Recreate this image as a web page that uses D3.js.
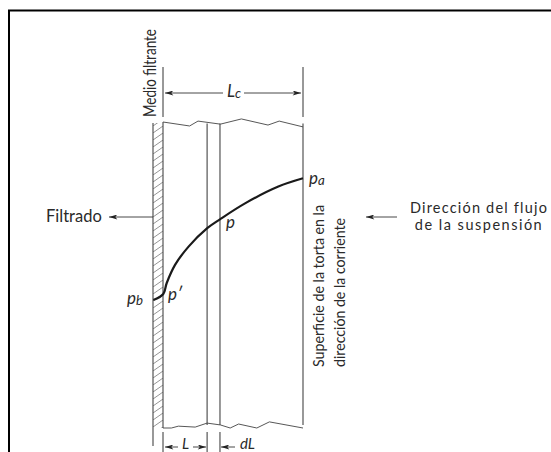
<!DOCTYPE html>
<html>
<head>
<meta charset="utf-8">
<script src="https://cdn.jsdelivr.net/npm/d3@7"></script>
<style>
  html, body { margin: 0; padding: 0; background: #fff; }
  svg { display: block; }
  text { font-family: Lato, "Open Sans", sans-serif; fill: #2a2a2a; }
</style>
</head>
<body>
<div id="chart"></div>
<script>
// x = position dans le gâteau (0 = medio filtrante, 100 = surface), y = hauteur / pression
const curveDepth = [-6.9, 0.2, 2.6, 8.6, 18.1, 31.6, 40.7, 58.6, 82.4, 100];
const curvePressure = [41.8, 43.8, 47.3, 53.3, 59.2, 65.3, 68.2, 73.4, 78.9, 81.6];

const topEdgeDepth = [0, 19, 25, 41, 56, 75, 83, 100];
const topEdgeLevel = [100, 98.7, 100.3, 99.3, 101, 99, 100.3, 98.4];

const bottomEdgeDepth = [0, 6, 11, 23, 31.5, 41, 48, 54, 67, 76, 100];
const bottomEdgeLevel = [0, 0, 0.6, 0.3, 1.6, 1, 0, 1.3, 0, 2, 0];

const sectionDepth = [31.5, 40.7];

const width = 551;
const height = 452;

const x = d3.scaleLinear().domain([0, 100]).range([163, 303]);
const y = d3.scaleLinear().domain([0, 100]).range([428, 122]);

const svg = d3.select("#chart").append("svg")
  .attr("width", width)
  .attr("height", height);

const defs = svg.append("defs");

// Flèche
defs.append("marker")
  .attr("id", "head")
  .attr("viewBox", "0 0 10 6")
  .attr("refX", 10)
  .attr("refY", 3)
  .attr("markerWidth", 9)
  .attr("markerHeight", 5)
  .attr("markerUnits", "userSpaceOnUse")
  .attr("orient", "auto")
  .append("path")
  .attr("d", "M0,0L10,3L0,6L2.5,3Z")
  .attr("fill", "#222");

// Hachures du medio filtrante
const hatch = defs.append("pattern")
  .attr("id", "hatch")
  .attr("patternUnits", "userSpaceOnUse")
  .attr("x", x(0) - 10)
  .attr("width", 10)
  .attr("height", 7);
hatch.append("line")
  .attr("x1", 0).attr("y1", 7)
  .attr("x2", 10).attr("y2", 0)
  .attr("stroke", "#777").attr("stroke-width", 0.8);

// Cadre
svg.append("path")
  .attr("d", "M9,452V10.5H551")
  .attr("fill", "none")
  .attr("stroke", "#000")
  .attr("stroke-width", 2);

function line(x1, y1, x2, y2, w, color) {
  return svg.append("line")
    .attr("x1", x1).attr("y1", y1)
    .attr("x2", x2).attr("y2", y2)
    .attr("stroke", color || "#333")
    .attr("stroke-width", w || 1);
}

// Medio filtrante
svg.append("rect")
  .attr("x", x(0) - 10)
  .attr("y", y(100) + 1)
  .attr("width", 10)
  .attr("height", y(0) - y(100) - 1)
  .attr("fill", "url(#hatch)");
line(x(0) - 10, y(100) + 1, x(0) - 10, 446, 1.1, "#444");
line(x(0), y(100), x(0), y(0), 1.1, "#444");

// Parois de la tranche dL et surface
const cakeLines = sectionDepth.concat([100]);
svg.selectAll(".wall")
  .data(cakeLines)
  .enter()
  .append("line")
  .attr("class", "wall")
  .attr("x1", (d) => x(d))
  .attr("x2", (d) => x(d))
  .attr("y1", y(99.5))
  .attr("y2", y(1))
  .attr("stroke", "#444")
  .attr("stroke-width", 1.1);

// Bords déchirés
const edge = d3.line().x((d) => x(d[0])).y((d) => y(d[1]));
svg.append("path")
  .attr("d", edge(d3.zip(topEdgeDepth, topEdgeLevel)))
  .attr("fill", "none").attr("stroke", "#444").attr("stroke-width", 0.9);
svg.append("path")
  .attr("d", edge(d3.zip(bottomEdgeDepth, bottomEdgeLevel)))
  .attr("fill", "none").attr("stroke", "#444").attr("stroke-width", 0.9);

// Courbe de pression
const pressure = d3.line()
  .x((d) => x(d[0]))
  .y((d) => y(d[1]))
  .curve(d3.curveCatmullRom);
svg.append("path")
  .attr("d", pressure(d3.zip(curveDepth, curvePressure)))
  .attr("fill", "none")
  .attr("stroke", "#1a1a1a")
  .attr("stroke-width", 2.2);

// Cotes
line(x(0), 67, x(0), 117, 1, "#333");
line(x(100), 67, x(100), 117, 1, "#333");

sectionDepth.concat([0]).forEach((d) => line(x(d), 432, x(d), 452, 1, "#333"));

function arrow(x1, y1, x2, y2) {
  svg.append("line")
    .attr("x1", x1).attr("y1", y1)
    .attr("x2", x2).attr("y2", y2)
    .attr("stroke", "#333").attr("stroke-width", 0.9)
    .attr("marker-end", "url(#head)");
}
arrow(223, 93, x(0) + 2, 93);
arrow(244, 93, x(100) - 2, 93);
arrow(178, 447, x(0) + 2, 447);
arrow(193, 447, x(31.5) - 1, 447);
arrow(235, 447, x(40.7) + 1, 447);
arrow(x(0) - 10, 217, 109, 217);
arrow(397, 217, 366, 217);

// Textes
function label(txt, px, py, size, opts) {
  opts = opts || {};
  const t = svg.append("text")
    .attr("x", px).attr("y", py)
    .attr("font-size", size)
    .attr("font-style", opts.italic ? "italic" : null)
    .attr("text-anchor", opts.anchor || "start")
    .text(txt);
  if (opts.spacing) t.attr("letter-spacing", opts.spacing);
  if (opts.rotate) t.attr("transform", "rotate(-90 " + px + " " + py + ")");
  if (opts.fit) t.attr("textLength", opts.fit).attr("lengthAdjust", "spacingAndGlyphs");
  if (opts.sub) {
    t.append("tspan").attr("font-size", size * 0.78).attr("dy", 1).text(opts.sub);
  }
  return t;
}

label("Medio filtrante", 156, 117, 17, { rotate: true, fit: 88 });
label("L", 227, 97, 17, { italic: true, sub: "c" });
label("Filtrado", 46, 222, 16.5);
label("p", 309, 184, 17, { italic: true, sub: "a" });
label("p", 226, 228, 17, { italic: true });
label("p′", 168, 300, 17, { italic: true });
label("p", 127, 304, 17, { italic: true, sub: "b" });
label("L", 182, 449, 15, { italic: true });
label("dL", 240, 449, 15, { italic: true });
label("Superficie de la torta en la", 324, 367, 15.5, { rotate: true, fit: 162 });
label("dirección de la corriente", 345, 367, 15.5, { rotate: true, fit: 149 });
label("Dirección del flujo", 479, 213, 14.5, { anchor: "middle", spacing: 1.2 });
label("de la suspensión", 479, 230, 14.5, { anchor: "middle", spacing: 1.5 });
</script>
</body>
</html>
